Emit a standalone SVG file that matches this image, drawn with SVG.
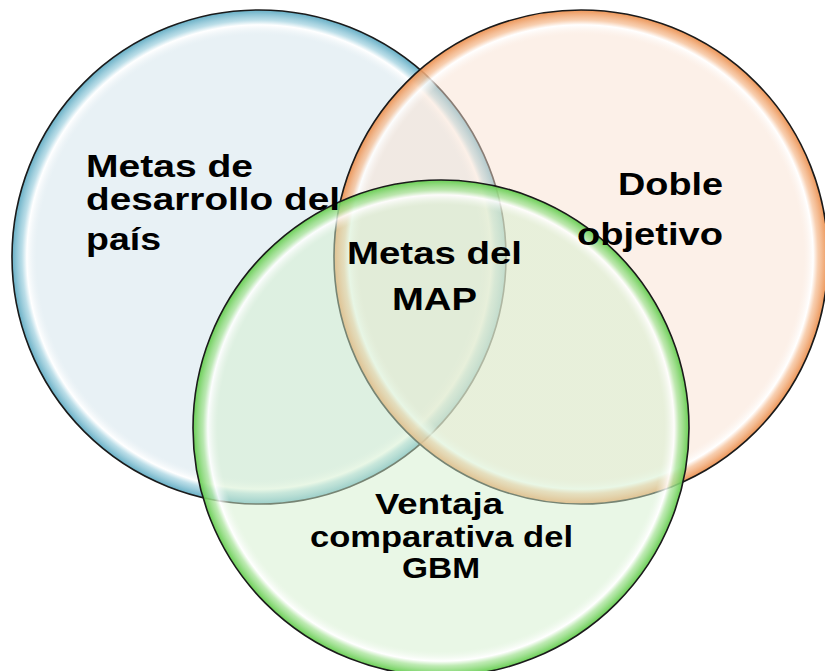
<svg xmlns="http://www.w3.org/2000/svg" width="825" height="671" viewBox="0 0 825 671">
  <style>
    .lbl { font-family: "Liberation Sans", Arial, sans-serif; font-weight: bold; font-size: 32px; fill: #000; }
    .sm { font-size: 30px; }
    .ring { stroke: #1a1a1a; stroke-width: 1.6; }
  </style>
  <defs>
    <radialGradient id="gBlue" cx="0.5" cy="0.5" r="0.5">
      <stop offset="0" stop-color="#d1e3eb" stop-opacity="0.5"/>
      <stop offset="0.90" stop-color="#d1e3eb" stop-opacity="0.5"/>
      <stop offset="0.94" stop-color="#ffffff" stop-opacity="0.85"/>
      <stop offset="0.96" stop-color="#a9d5e2" stop-opacity="0.8"/>
      <stop offset="1" stop-color="#5eaac2" stop-opacity="0.95"/>
    </radialGradient>
    <radialGradient id="gOrange" cx="0.5" cy="0.5" r="0.5">
      <stop offset="0" stop-color="#f9e1d1" stop-opacity="0.5"/>
      <stop offset="0.90" stop-color="#f9e1d1" stop-opacity="0.5"/>
      <stop offset="0.94" stop-color="#ffffff" stop-opacity="0.85"/>
      <stop offset="0.96" stop-color="#f6c29b" stop-opacity="0.8"/>
      <stop offset="1" stop-color="#eb8f4e" stop-opacity="0.95"/>
    </radialGradient>
    <radialGradient id="gGreen" cx="0.5" cy="0.5" r="0.5">
      <stop offset="0" stop-color="#d3efcd" stop-opacity="0.5"/>
      <stop offset="0.90" stop-color="#d3efcd" stop-opacity="0.5"/>
      <stop offset="0.94" stop-color="#ffffff" stop-opacity="0.85"/>
      <stop offset="0.96" stop-color="#ade59f" stop-opacity="0.8"/>
      <stop offset="1" stop-color="#62cc4c" stop-opacity="0.95"/>
    </radialGradient>
  </defs>
  <rect width="825" height="671" fill="#ffffff"/>

  <g id="circle-blue">
    <circle class="ring" cx="259" cy="257" r="247" fill="url(#gBlue)"/>
  </g>
  <g id="circle-orange">
    <circle class="ring" cx="581" cy="257" r="247" fill="url(#gOrange)"/>
  </g>
  <g id="circle-green">
    <circle class="ring" cx="441" cy="428" r="248" fill="url(#gGreen)"/>
  </g>
  <g id="connectors"></g>

  <g id="label-pais">
    <text class="lbl" x="86" y="177" textLength="167" lengthAdjust="spacingAndGlyphs">Metas de</text>
    <text class="lbl" x="86" y="210" textLength="254" lengthAdjust="spacingAndGlyphs">desarrollo del</text>
    <text class="lbl" x="86" y="250" textLength="75" lengthAdjust="spacingAndGlyphs">país</text>
  </g>
  <g id="label-doble">
    <text class="lbl" x="618" y="195" textLength="105" lengthAdjust="spacingAndGlyphs">Doble</text>
    <text class="lbl" x="577" y="245" textLength="146" lengthAdjust="spacingAndGlyphs">objetivo</text>
  </g>
  <g id="label-map">
    <text class="lbl" x="347" y="264" textLength="175" lengthAdjust="spacingAndGlyphs">Metas del</text>
    <text class="lbl" x="392" y="310" textLength="85" lengthAdjust="spacingAndGlyphs">MAP</text>
  </g>
  <g id="label-gbm">
    <text class="lbl sm" x="375" y="514" textLength="128" lengthAdjust="spacingAndGlyphs">Ventaja</text>
    <text class="lbl sm" x="310" y="547" textLength="263" lengthAdjust="spacingAndGlyphs">comparativa del</text>
    <text class="lbl sm" x="402" y="578" textLength="78" lengthAdjust="spacingAndGlyphs">GBM</text>
  </g>
</svg>
